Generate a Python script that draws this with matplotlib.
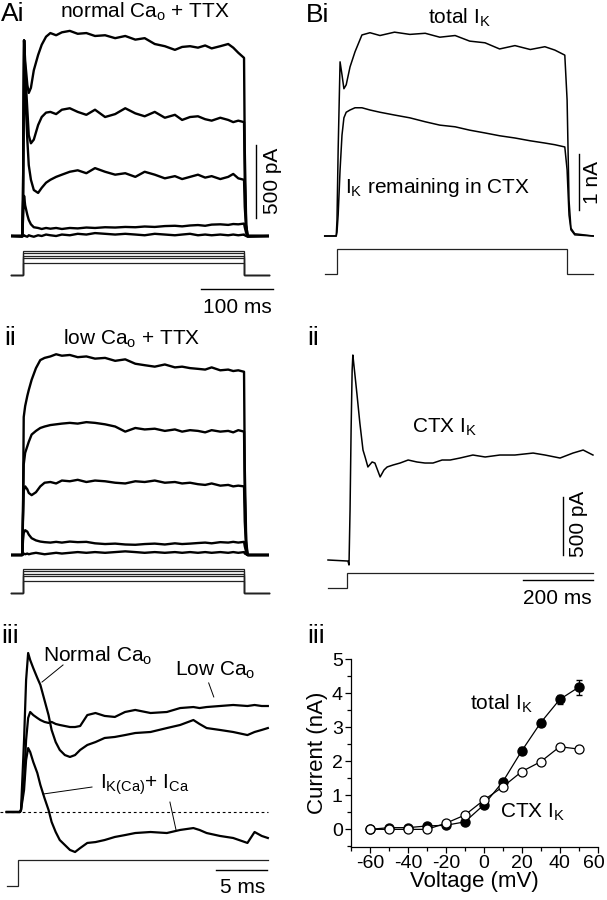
import matplotlib
matplotlib.use('Agg')
import matplotlib.pyplot as plt
import matplotlib.transforms as mtransforms
from matplotlib.ticker import MultipleLocator

plt.rcParams['font.family'] = ['Liberation Sans', 'DejaVu Sans']
plt.rcParams['mathtext.fontset'] = 'custom'
plt.rcParams['mathtext.rm'] = 'Liberation Sans'
plt.rcParams['mathtext.it'] = 'Liberation Sans:italic'
plt.rcParams['axes.unicode_minus'] = False

# ---------------- data ----------------
# Panel Ai: normal Ca_o + TTX (time ms, current pA)
TIME_AI = [-15, -1, 0, 1.5, 3, 6, 8, 11, 15, 21, 26, 32, 38, 46, 54, 65, 76, 88, 100, 114, 128, 142,
           156, 169, 183, 197, 211, 221, 232, 243, 253, 262, 274, 285, 292, 299, 307, 308, 310, 312, 340]
AI_1 = [0, 0, 250, 1340, 1200, 1035, 980, 1015, 1135, 1240, 1310, 1365, 1390, 1375, 1395, 1405, 1385, 1390,
        1370, 1375, 1355, 1370, 1345, 1355, 1315, 1300, 1275, 1295, 1300, 1290, 1305, 1285, 1300, 1315,
        1290, 1255, 1220, 590, 75, 0, 0]
AI_2 = [0, 0, 250, 1340, 1135, 865, 690, 635, 660, 760, 815, 845, 850, 835, 865, 875, 850, 830, 865, 815,
        835, 875, 840, 820, 850, 810, 830, 795, 815, 820, 800, 790, 810, 795, 780, 790, 780, 380, 75, 0, 0]
AI_3 = [0, 0, 250, 1340, 1000, 660, 485, 385, 315, 295, 330, 365, 385, 405, 420, 440, 450, 430, 465, 440,
        420, 430, 405, 440, 420, 395, 410, 390, 405, 420, 400, 410, 390, 405, 425, 395, 385, 200, 40, 0, 0]
AI_4 = [0, 0, 110, 275, 210, 145, 110, 80, 60, 55, 48, 55, 50, 55, 48, 55, 52, 58, 55, 60,
        58, 62, 60, 65, 62, 68, 70, 66, 72, 75, 70, 78, 80, 76, 82, 80, 85, 60, 20, 0, 0]
AI_5 = [0, -5, 0, 5, 0, -5, 5, 0, -5, 5, 0, 10, 5, 0, 10, 5, 15, 10, 20, 15,
        10, 15, 10, 5, 15, 10, 5, 10, 15, 5, 10, 5, 10, 5, 10, 5, 10, 5, 0, -5, 0]

# Panel Aii: low Ca_o + TTX
TIME_AII = [-15, -1, 0, 1, 3, 6, 8, 12, 18, 24, 30, 38, 46, 54, 65, 76, 88, 100, 114, 128, 142, 156,
            169, 183, 197, 211, 221, 232, 243, 253, 262, 274, 285, 292, 299, 307, 308, 310, 312, 340]
AII_1 = [0, 0, 300, 945, 1020, 1090, 1130, 1200, 1280, 1335, 1350, 1360, 1375, 1365, 1370, 1355, 1360, 1345,
         1350, 1330, 1340, 1310, 1300, 1290, 1305, 1285, 1290, 1280, 1275, 1270, 1285, 1265, 1270, 1260,
         1265, 1255, 600, 100, 0, 0]
AII_2 = [0, 0, 300, 620, 700, 745, 775, 825, 850, 870, 880, 890, 895, 900, 905, 900, 910, 905, 895, 880,
         845, 870, 860, 865, 850, 860, 845, 855, 850, 840, 855, 845, 850, 840, 855, 845, 420, 70, 0, 0]
AII_3 = [0, 0, 250, 440, 470, 450, 425, 410, 430, 470, 495, 500, 490, 510, 505, 515, 500, 510, 505, 495,
         490, 505, 500, 510, 495, 500, 490, 495, 485, 480, 490, 475, 480, 470, 475, 470, 230, 40, 0, 0]
AII_4 = [0, 0, 100, 150, 170, 160, 140, 115, 100, 92, 88, 85, 90, 85, 92, 88, 90, 80, 75, 78,
         72, 70, 75, 78, 72, 80, 75, 78, 82, 85, 80, 88, 85, 90, 85, 90, 60, 20, 0, 0]
AII_5 = [0, 0, 5, 10, 5, 10, 5, 10, 15, 10, 5, 10, 15, 10, 15, 20, 15, 20, 15, 20,
         25, 20, 15, 20, 15, 20, 15, 20, 15, 20, 15, 20, 15, 20, 15, 20, 10, 5, 0, 0]

# Step protocols (mV)
HOLD_MV = -70
STEP_LEVELS_A = [50, 37, 25, 12, -10]
STIM_A_TIMES = (-16, 0, 307, 342)

# Panel Aiii: fast components (time ms, current pA)
TIME_AIII = [-1.4, -0.1, 0, 0.3, 0.5, 0.7, 0.9, 1.2, 1.6, 1.9, 2.3, 2.7, 3.0, 3.4, 3.8, 4.3, 4.8, 5.3, 5.8,
             6.5, 7.3, 8.2, 9.2, 10.2, 11.2, 12.7, 14.3, 15.6, 16.9, 17.5, 18.2, 19.5, 20.8, 22.2, 22.9, 23.6, 24.2]
NORMAL_CA = [0, 0, 14, 493, 904, 1089, 1041, 986, 918, 870, 767, 664, 562, 479, 425, 390, 377, 390, 425, 459,
             479, 507, 514, 527, 541, 548, 575, 596, 630, 603, 575, 562, 548, 527, 548, 562, 575]
LOW_CA = [0, 0, 14, 219, 493, 644, 685, 664, 644, 630, 617, 610, 617, 603, 596, 589, 582, 582, 589, 664,
          678, 658, 651, 685, 699, 678, 685, 712, 719, 712, 719, 726, 733, 726, 733, 726, 726]
IKCA_ICA = [0, 0, 14, 151, 356, 438, 411, 343, 267, 185, 96, 14, -68, -137, -192, -226, -260, -274, -247, -212,
            -206, -192, -171, -158, -144, -137, -144, -123, -110, -123, -144, -164, -178, -212, -137, -164, -178]
STIM_AIII_TIMES = (-1.4, -0.27, None, 24.2)
STEP_LEVEL_AIII = [50]

# Panel Bi: total IK and IK remaining in CTX (time ms, current nA)
TIME_BI = [-16, -1, 0, 1.5, 4, 6.5, 9, 12, 17, 23.5, 32.5, 43, 56, 75, 95, 115, 134, 154, 173, 193,
           212, 232, 252, 271, 284, 297, 300, 302.5, 305, 310, 334]
TOTAL_BI = [0, 0, 0.29, 1.54, 3.11, 2.88, 2.63, 2.70, 3.02, 3.29, 3.59, 3.63, 3.58, 3.64, 3.60, 3.62, 3.55,
            3.58, 3.48, 3.45, 3.34, 3.40, 3.33, 3.38, 3.32, 3.23, 2.43, 0.64, 0.14, 0.04, 0]
CTXREM_BI = [0, 0, 0.07, 0.375, 1.18, 1.80, 2.11, 2.21, 2.25, 2.29, 2.29, 2.25, 2.21, 2.16, 2.11, 2.04, 1.98,
             1.95, 1.89, 1.84, 1.79, 1.75, 1.70, 1.66, 1.63, 1.59, 1.18, 0.375, 0.11, 0.02, 0]
STIM_BI_TIMES = (-16, 0, 300, 334)
STEP_LEVEL_B = [50]

# Panel Bii: CTX-sensitive IK (time ms, current pA)
TIME_BII = [-60, -3, 0, 3, 6, 9, 11, 14, 17, 23, 31, 40, 46, 54, 66, 74, 89, 100, 109, 126, 146, 169,
            194, 217, 240, 266, 289, 317, 354, 389, 431, 474, 526, 560, 603, 640, 669, 697]
CTX_BII = [0, -9, -43, 431, 1121, 1638, 1767, 1681, 1595, 1422, 1181, 948, 888, 802, 845, 836, 716, 776,
           802, 819, 836, 862, 845, 836, 836, 862, 862, 879, 905, 888, 905, 905, 922, 905, 879, 922, 948, 905]
STIM_BII_TIMES = (-60, -6, None, 697)

# Panel Biii: I-V relation
VOLTAGE = [-60, -50, -40, -30, -20, -10, 0, 10, 20, 30, 40, 50]
TOTAL_IK = [0.0, 0.05, 0.05, 0.10, 0.12, 0.22, 0.72, 1.40, 2.31, 3.14, 3.82, 4.18]
TOTAL_ERR = [0.02, 0.03, 0.03, 0.03, 0.04, 0.05, 0.06, 0.08, 0.10, 0.10, 0.14, 0.22]
CTX_IK = [0.0, 0.0, 0.0, 0.0, 0.18, 0.42, 0.86, 1.25, 1.70, 1.99, 2.43, 2.36]
CTX_ERR = [0.02, 0.05, 0.05, 0.05, 0.05, 0.06, 0.07, 0.05, 0.08, 0.06, 0.09, 0.10]

# ---------------- figure ----------------
W, H = 607, 900
fig = plt.figure(figsize=(W / 100, H / 100), dpi=100)

TXT = 15      # annotation size
LBL = 19      # panel label size


def box_axes(left, top, right, bottom, x_px, x_val, x_ppu, y_px, y_val, y_ppu):
    ax = fig.add_axes([left / W, 1 - bottom / H, (right - left) / W, (bottom - top) / H])
    ax.set_xlim(x_val + (left - x_px) / x_ppu, x_val + (right - x_px) / x_ppu)
    ax.set_ylim(y_val - (bottom - y_px) / y_ppu, y_val + (y_px - top) / y_ppu)
    ax.set_axis_off()
    return ax


def ftext(x, y, s, size=TXT, **kw):
    kw.setdefault('va', 'baseline')
    return fig.text(x / W, 1 - y / H, s, fontsize=size, **kw)


def draw_stim(ax, times, levels, hold):
    t0, ton, toff, tend = times
    for L in levels:
        if toff is None:
            xs, ys = [t0, ton, ton, tend], [hold, hold, L, L]
        else:
            xs, ys = [t0, ton, ton, toff, toff, tend], [hold, hold, L, L, hold, hold]
        ax.plot(xs, ys, color='#222222', lw=0.9, solid_joinstyle='miter')


K = 'black'

# ---- Ai ----
ax_ai = box_axes(0, 25, 300, 300, 23, 0, 0.72, 236, 0, 73 / 500)
for tr in (AI_5, AI_4, AI_3, AI_2, AI_1):
    ax_ai.plot(TIME_AI, tr, color=K, lw=1.7)
ax_ai.plot([323.6, 323.6], [123, 623], color=K, lw=1.0)           # 500 pA
ax_ai.plot([247.2, 347.2], [-363, -363], color=K, lw=1.0)         # 100 ms
ax_ai_s = box_axes(0, 240, 300, 285, 23, 0, 0.72, 274.7, HOLD_MV, 0.2)
draw_stim(ax_ai_s, STIM_A_TIMES, STEP_LEVELS_A, HOLD_MV)
ftext(1, 21, 'Ai', LBL)
ftext(60, 18, r'normal Ca$_{\rm o}$ + TTX')
ftext(272, 181, '500 pA', rotation=90, ha='center', va='center')
ftext(237, 313, '100 ms', ha='center')

# ---- Aii ----
ax_aii = box_axes(0, 345, 300, 565, 23, 0, 0.72, 555, 0, 73 / 500)
for tr in (AII_5, AII_4, AII_3, AII_2, AII_1):
    ax_aii.plot(TIME_AII, tr, color=K, lw=1.7)
ax_aii_s = box_axes(0, 560, 300, 600, 23, 0, 0.72, 592.7, HOLD_MV, 0.2)
draw_stim(ax_aii_s, STIM_A_TIMES, STEP_LEVELS_A, HOLD_MV)
ftext(4, 345, 'ii', LBL)
ftext(63, 345, r'low Ca$_{\rm o}$ + TTX')

# ---- Aiii ----
ax_aiii = box_axes(0, 640, 300, 880, 21, 0, 10.2, 812, 0, 73 / 500)
ax_aiii.plot([-2.06, 24.2], [0, 0], color=K, lw=0.8, dashes=(2.5, 2.5))
ax_aiii.plot(TIME_AIII, LOW_CA, color=K, lw=1.6)
ax_aiii.plot(TIME_AIII, NORMAL_CA, color=K, lw=1.6)
ax_aiii.plot(TIME_AIII, IKCA_ICA, color=K, lw=1.6)
ax_aiii.plot([19.1, 24.1], [-397, -397], color=K, lw=1.0)          # 5 ms
# leader lines
ax_aiii.plot([4.12, 2.06], [1007, 890], color=K, lw=0.7)
ax_aiii.plot([18.4, 18.9], [884, 788], color=K, lw=0.7)
ax_aiii.plot([6.96, 2.16], [171, 123], color=K, lw=0.7)
ax_aiii.plot([14.6, 15.2], [68, -123], color=K, lw=0.7)
ax_aiii_s = box_axes(0, 850, 300, 898, 21, 0, 10.2, 885.7, HOLD_MV, 26 / 120)
draw_stim(ax_aiii_s, STIM_AIII_TIMES, STEP_LEVEL_AIII, HOLD_MV)
ftext(1, 643, 'iii', LBL)
ftext(43, 662, r'Normal Ca$_{\rm o}$')
ftext(175, 676, r'Low Ca$_{\rm o}$')
ftext(100, 789, r'I$_{\rm K(Ca)}$+ I$_{\rm Ca}$')
ftext(243, 893, '5 ms', ha='center')

# ---- Bi ----
ax_bi = box_axes(305, 25, 607, 245, 337, 0, 0.767, 236, 0, 56)
ax_bi.plot(TIME_BI, CTXREM_BI, color=K, lw=1.1)
ax_bi.plot(TIME_BI, TOTAL_BI, color=K, lw=1.1)
ax_bi.plot([315.5, 315.5], [0.464, 1.464], color=K, lw=1.0)        # 1 nA
ax_bi_s = box_axes(305, 240, 607, 285, 337, 0, 0.767, 274, HOLD_MV, 25 / 120)
draw_stim(ax_bi_s, STIM_BI_TIMES, STEP_LEVEL_B, HOLD_MV)
ftext(306, 22, 'Bi', LBL)
ftext(428, 24, r'total I$_{\rm K}$')
ftext(345, 193, r'I$_{\rm K}$ remaining in CTX')
ftext(592, 182, '1 nA', rotation=90, ha='center', va='center')

# ---- Bii ----
ax_bii = box_axes(305, 345, 607, 600, 349, 0, 0.35, 560, 0, 58 / 500)
ax_bii.plot(TIME_BII, CTX_BII, color=K, lw=1.1)
ax_bii.plot([611, 611], [43, 543], color=K, lw=1.0)                # 500 pA
ax_bii.plot([497, 697], [-172, -172], color=K, lw=1.0)             # 200 ms
ax_bii_s = box_axes(305, 565, 607, 595, 349, 0, 0.35, 588, HOLD_MV, 15 / 120)
draw_stim(ax_bii_s, STIM_BII_TIMES, STEP_LEVEL_B, HOLD_MV)
ftext(307, 345, 'ii', LBL)
ftext(412, 433, r'CTX I$_{\rm K}$')
ftext(578, 524, '500 pA', rotation=90, ha='center', va='center')
ftext(557, 604, '200 ms', ha='center')

# ---- Biii ----
ax_iv = fig.add_axes([351 / W, 1 - 846.7 / H, (597.7 - 351) / W, (846.7 - 659.3) / H])
ax_iv.set_xlim(-70, 60)
ax_iv.set_ylim(-0.51, 5)
ax_iv.errorbar(VOLTAGE, TOTAL_IK, yerr=TOTAL_ERR, color=K, lw=0.9, marker='o', ms=6.5,
               mfc=K, mec=K, capsize=2.5, elinewidth=0.9, zorder=3)
ax_iv.errorbar(VOLTAGE, CTX_IK, yerr=CTX_ERR, color=K, lw=0.9, marker='o', ms=6.5,
               mfc='white', mec=K, mew=0.9, capsize=2.5, elinewidth=0.9, zorder=4)
for s in ('top', 'right'):
    ax_iv.spines[s].set_visible(False)
for s in ('left', 'bottom'):
    ax_iv.spines[s].set_linewidth(0.9)
ax_iv.xaxis.set_major_locator(MultipleLocator(20))
ax_iv.xaxis.set_minor_locator(MultipleLocator(10))
ax_iv.yaxis.set_major_locator(MultipleLocator(1))
ax_iv.yaxis.set_minor_locator(MultipleLocator(0.5))
ax_iv.set_xticks([-60, -40, -20, 0, 20, 40, 60])
ax_iv.tick_params(axis='both', which='major', direction='out', length=4, width=0.9, labelsize=14, pad=2)
ax_iv.tick_params(axis='both', which='minor', direction='out', length=3, width=0.9)
# nudge the last x tick label so it stays inside the canvas
last_lbl = ax_iv.get_xticklabels()[-1]
last_lbl.set_transform(last_lbl.get_transform() +
                       mtransforms.ScaledTranslation(-4 / 100, 0, fig.dpi_scale_trans))
ax_iv.set_xlabel('Voltage (mV)', fontsize=16, labelpad=-1)
ax_iv.set_ylabel('Current (nA)', fontsize=16, labelpad=3)
ftext(307, 643, 'iii', LBL)
ftext(470, 710, r'total I$_{\rm K}$')
ftext(500, 818, r'CTX I$_{\rm K}$')

fig.savefig('out.png', dpi=100)
